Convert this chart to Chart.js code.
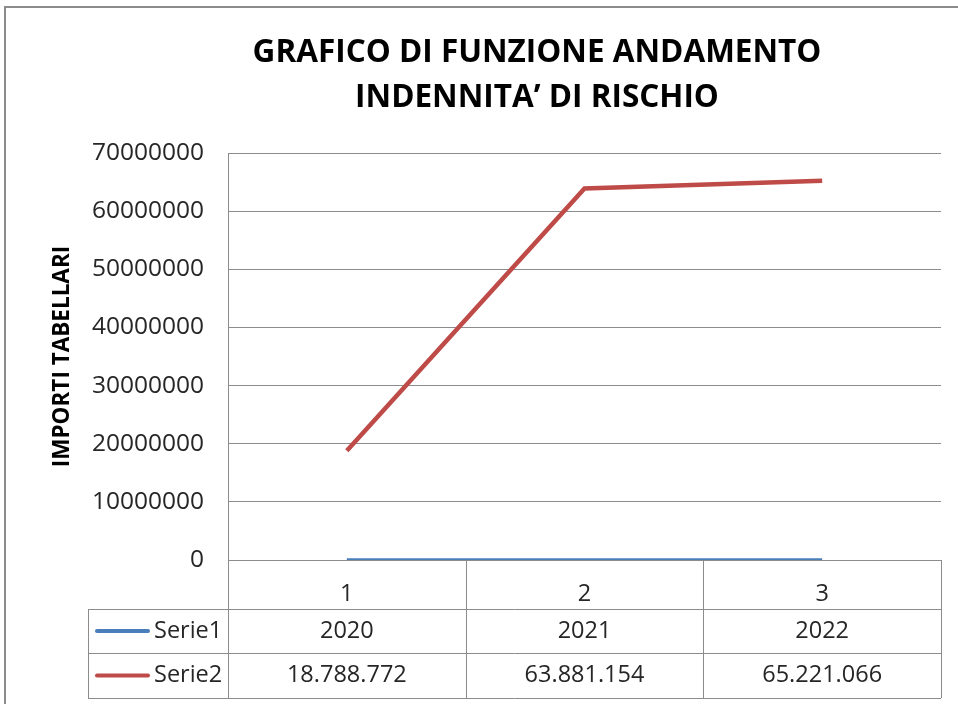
<!DOCTYPE html>
<html>
<head>
<meta charset="utf-8">
<script src="https://cdn.jsdelivr.net/npm/chart.js@4"></script>
<style>
  html, body { margin: 0; padding: 0; background: #fff; }
  #box { width: 958px; height: 704px; }
</style>
</head>
<body>
<div id="box"><canvas id="grafico" width="958" height="704"></canvas></div>
<script>
// dati
const categorie = ['1', '2', '3'];
const nomiSerie = ['Serie1', 'Serie2'];
const serie1 = [2020, 2021, 2022];
const serie2 = [18788772, 63881154, 65221066];
const coloriSerie = ['#4a7ebb', '#be4b48'];
const titolo = ['GRAFICO DI FUNZIONE ANDAMENTO', 'INDENNITA\u2019 DI RISCHIO'];

const FONT = '"Open Sans", "Liberation Sans", sans-serif';
const GRIGIO = '#8c8c8c';
const TESTO = '#262626';

// numeri con il punto come separatore (solo sopra le 4 cifre, come Excel)
function formatta(v) {
  const s = String(v);
  return v >= 10000 ? s.replace(/\B(?=(\d{3})+(?!\d))/g, '.') : s;
}

// cornice + titolo
const cornice = {
  id: 'cornice',
  beforeDraw(chart) {
    const ctx = chart.ctx;
    ctx.save();
    ctx.strokeStyle = GRIGIO;
    ctx.lineWidth = 2;
    ctx.strokeRect(5, 7, 1200, 1200);
    ctx.restore();
  },
  afterDraw(chart) {
    const ctx = chart.ctx;
    ctx.save();
    ctx.fillStyle = '#000';
    ctx.font = 'bold 31.5px ' + FONT;
    ctx.textAlign = 'center';
    ctx.textBaseline = 'middle';
    titolo.forEach((riga, i) => ctx.fillText(riga, 537, 53 + i * 45));
    ctx.restore();
  }
};

// tabella dati sotto l'asse
const tabella = {
  id: 'tabella',
  afterDraw(chart) {
    const ctx = chart.ctx;
    const a = chart.chartArea;
    const x = chart.scales.x;
    const x0 = a.left - 140;
    const righe = [a.bottom, a.bottom + 49, a.bottom + 93, a.bottom + 138];
    const n = categorie.length;
    const bordi = [a.left];
    for (let i = 1; i < n; i++) bordi.push((x.getPixelForValue(i - 1) + x.getPixelForValue(i)) / 2);
    bordi.push(a.right);

    ctx.save();
    ctx.strokeStyle = GRIGIO;
    ctx.lineWidth = 1;
    ctx.beginPath();
    // orizzontali
    for (let r = 1; r < righe.length; r++) {
      ctx.moveTo(x0, Math.round(righe[r]) + 0.5);
      ctx.lineTo(a.right, Math.round(righe[r]) + 0.5);
    }
    // verticali
    ctx.moveTo(x0 + 0.5, righe[1]);
    ctx.lineTo(x0 + 0.5, righe[3]);
    bordi.forEach(b => {
      ctx.moveTo(Math.round(b) + 0.5, righe[0]);
      ctx.lineTo(Math.round(b) + 0.5, righe[3]);
    });
    ctx.stroke();

    const valori = [serie1, serie2];
    ctx.font = '23.5px ' + FONT;
    ctx.textBaseline = 'middle';
    valori.forEach((serie, s) => {
      const yc = (righe[s + 1] + righe[s + 2]) / 2;
      // chiave legenda
      ctx.strokeStyle = coloriSerie[s];
      ctx.lineWidth = 4;
      ctx.lineCap = 'round';
      ctx.beginPath();
      ctx.moveTo(x0 + 9, yc);
      ctx.lineTo(x0 + 60, yc);
      ctx.stroke();
      ctx.fillStyle = TESTO;
      ctx.textAlign = 'left';
      ctx.fillText(nomiSerie[s], x0 + 66, yc);
      ctx.textAlign = 'center';
      serie.forEach((v, i) => ctx.fillText(formatta(v), x.getPixelForValue(i), yc));
    });
    ctx.restore();
  }
};

const ctx = document.getElementById('grafico').getContext('2d');

new Chart(ctx, {
  type: 'line',
  data: {
    labels: categorie,
    datasets: [
      { label: nomiSerie[0], data: serie1, borderColor: coloriSerie[0], borderWidth: 3.5, pointRadius: 0, tension: 0 },
      { label: nomiSerie[1], data: serie2, borderColor: coloriSerie[1], borderWidth: 4.5, pointRadius: 0, tension: 0 }
    ]
  },
  options: {
    responsive: false,
    animation: false,
    layout: { padding: { top: 153, left: 46, right: 17, bottom: 95 } },
    plugins: {
      legend: { display: false },
      title: { display: false },
      tooltip: { enabled: false }
    },
    scales: {
      x: {
        offset: true,
        grid: { display: false },
        border: { display: true, color: GRIGIO, width: 1 },
        ticks: { color: TESTO, font: { family: FONT, size: 23.5 }, padding: 12, maxRotation: 0 },
        afterFit(scale) { scale.height = 49; }
      },
      y: {
        min: 0,
        max: 70000000,
        grid: { color: GRIGIO, drawTicks: false },
        border: { display: true, color: GRIGIO, width: 1 },
        ticks: {
          stepSize: 10000000,
          color: TESTO,
          font: { family: FONT, size: 24.5 },
          padding: 24,
          callback: v => String(v)
        },
        title: {
          display: true,
          text: 'IMPORTI TABELLARI',
          color: '#000',
          font: { family: FONT, size: 22.5, weight: 'bold' },
          padding: { top: 3, bottom: 4 }
        },
        afterFit(scale) { scale.width = 182; }
      }
    }
  },
  plugins: [cornice, tabella]
});
</script>
</body>
</html>
